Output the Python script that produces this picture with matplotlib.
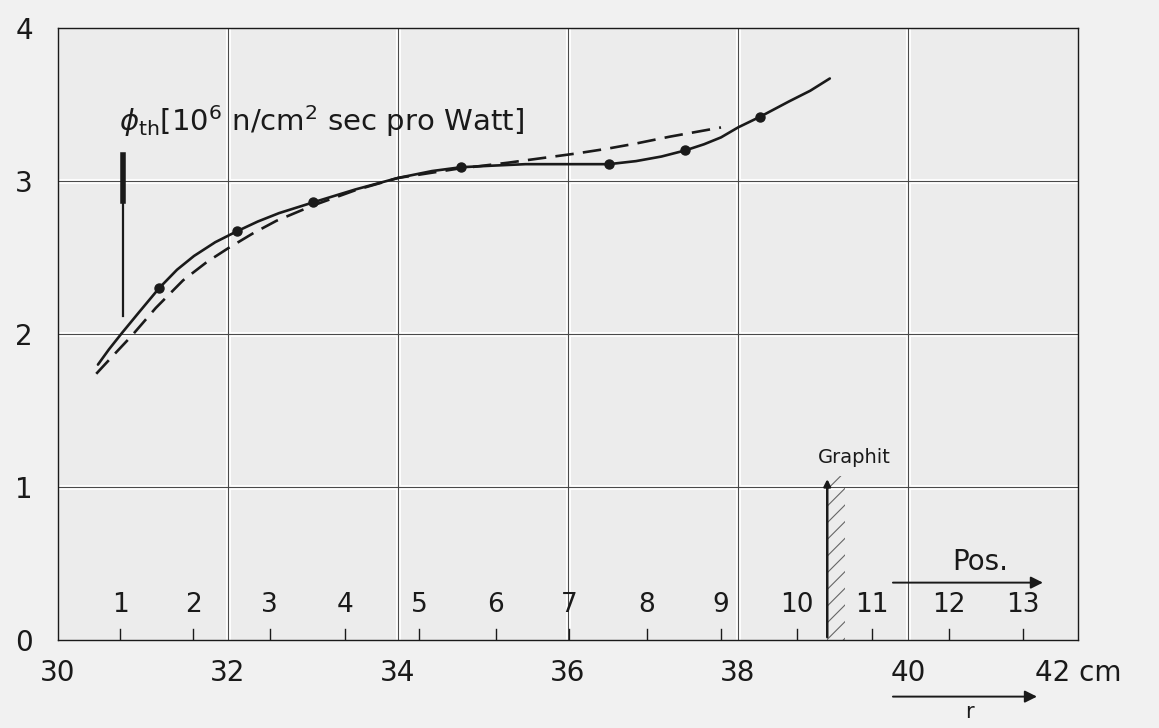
import matplotlib.pyplot as plt
from matplotlib.patches import Rectangle

plt.rcParams['font.family'] = ['DejaVu Sans']
plt.rcParams['mathtext.fontset'] = 'dejavusans'
plt.rcParams['hatch.linewidth'] = 0.8

# measured flux, solid curve with data points
r_meas = [31.19, 32.10, 33.00, 34.74, 36.48, 37.38, 38.26]
phi_meas = [2.30, 2.67, 2.86, 3.09, 3.11, 3.20, 3.42]

# solid curve traced through the points
r_solid = [30.47, 30.60, 30.75, 30.95, 31.19, 31.40, 31.60, 31.85, 32.10,
           32.35, 32.60, 33.00, 33.50, 34.00, 34.40, 34.74, 35.10, 35.50,
           36.00, 36.48, 36.80, 37.10, 37.38, 37.60, 37.80, 38.00, 38.26,
           38.60, 38.85, 39.08]
phi_solid = [1.80, 1.90, 2.005, 2.14, 2.30, 2.42, 2.51, 2.60, 2.67,
             2.735, 2.79, 2.86, 2.945, 3.02, 3.065, 3.09, 3.10, 3.11,
             3.11, 3.11, 3.13, 3.16, 3.20, 3.24, 3.285, 3.35, 3.42,
             3.52, 3.59, 3.67]

# dashed comparison curve
r_dash = [30.45, 30.65, 30.87, 31.15, 31.47, 31.75, 32.00, 32.30, 32.57,
          33.00, 33.50, 34.00, 34.35, 34.70, 35.00, 35.30, 35.70, 36.10,
          36.45, 36.80, 37.20, 37.50, 37.80]
phi_dash = [1.74, 1.86, 1.99, 2.17, 2.35, 2.47, 2.56, 2.66, 2.74,
            2.84, 2.94, 3.02, 3.05, 3.08, 3.10, 3.12, 3.15, 3.18,
            3.21, 3.245, 3.29, 3.32, 3.35]

# measuring positions along r
pos_labels = ['1', '2', '3', '4', '5', '6', '7', '8', '9', '10', '11', '12', '13']
pos_r = [30.73, 31.59, 32.49, 33.38, 34.25, 35.15, 36.01, 36.93, 37.80,
         38.69, 39.58, 40.48, 41.35]

x_ticks = [30, 32, 34, 36, 38, 40, 42]
x_ticklabels = ['30', '32', '34', '36', '38', '40', '42 cm']
y_ticks = [0, 1, 2, 3, 4]

graphite_r = 39.05
ink = '#1a1a1a'

fig = plt.figure(figsize=(11.59, 7.28), dpi=100, facecolor='#f1f1f1')
ax = fig.add_axes([58 / 1159, 1 - 640 / 728, 1020 / 1159, 612 / 728])
ax.set_facecolor('#ececec')
ax.set_xlim(30, 42)
ax.set_ylim(0, 4)

# grid: white band with a thin dark line on top
for gx in x_ticks[1:-1]:
    ax.axvline(gx, color='white', lw=3.5, zorder=1)
    ax.axvline(gx, color='#4a4a4a', lw=0.8, zorder=1.1)
for gy in y_ticks[1:-1]:
    ax.axhline(gy, color='white', lw=3.5, zorder=1)
    ax.axhline(gy, color='#4a4a4a', lw=0.8, zorder=1.1)

ax.plot(r_solid, phi_solid, color=ink, lw=1.9, solid_joinstyle='round',
        solid_capstyle='round', zorder=3)
ax.plot(r_dash, phi_dash, color=ink, lw=1.9, dashes=(7, 3.5),
        dash_joinstyle='round', zorder=3)
ax.plot(r_meas, phi_meas, 'o', color=ink, ms=6.5, zorder=4)

# scatter indicator near position 1
ax.plot([30.77, 30.77], [2.12, 3.17], color=ink, lw=1.6, zorder=3)
ax.plot([30.77, 30.77], [2.87, 3.17], color=ink, lw=4, zorder=3)

ax.text(30.72, 3.39, r'$\phi_{\rm th}$[10$^{6}$ n/cm$^{2}$ sec pro Watt]',
        fontsize=21, color=ink, va='center', ha='left', zorder=5)

# position markers along the bottom
for lab, pr in zip(pos_labels, pos_r):
    ax.plot([pr, pr], [0, 0.07], color=ink, lw=1.0, zorder=3)
    ax.text(pr, 0.23, lab, fontsize=19, color=ink, ha='center', va='center', zorder=5)

# graphite boundary with hatching
ax.add_patch(Rectangle((graphite_r, 0), 0.21, 1.07, facecolor='none',
                       edgecolor='#666666', hatch='//', lw=0, zorder=2))
ax.annotate('', xy=(graphite_r, 1.07), xytext=(graphite_r, 0),
            arrowprops=dict(arrowstyle='-|>', color=ink, lw=1.8,
                            mutation_scale=10), zorder=4)
ax.text(graphite_r + 0.32, 1.19, 'Graphit', fontsize=14, color=ink,
        ha='center', va='center', zorder=5)

# position direction arrow
ax.annotate('', xy=(41.62, 0.375), xytext=(39.79, 0.375),
            arrowprops=dict(arrowstyle='-|>', color=ink, lw=1.4,
                            mutation_scale=18), zorder=4)
ax.text(40.85, 0.51, 'Pos.', fontsize=20, color=ink, ha='center', va='center', zorder=5)

# radius arrow below the axis
ax.annotate('', xy=(41.55, -0.37), xytext=(39.79, -0.37),
            xycoords='data', arrowprops=dict(arrowstyle='-|>', color=ink, lw=1.4,
                                             mutation_scale=18),
            annotation_clip=False)
ax.text(40.72, -0.47, 'r', fontsize=15, color=ink, ha='center', va='center',
        clip_on=False)

ax.set_xticks(x_ticks)
ax.set_xticklabels(x_ticklabels)
ax.set_yticks(y_ticks)
ax.tick_params(length=0, labelsize=20, colors=ink)
ax.tick_params(axis='x', pad=14)
ax.tick_params(axis='y', pad=18)
for sp in ax.spines.values():
    sp.set_color(ink)
    sp.set_linewidth(1.0)

fig.savefig('out.png', dpi=100, facecolor=fig.get_facecolor())
